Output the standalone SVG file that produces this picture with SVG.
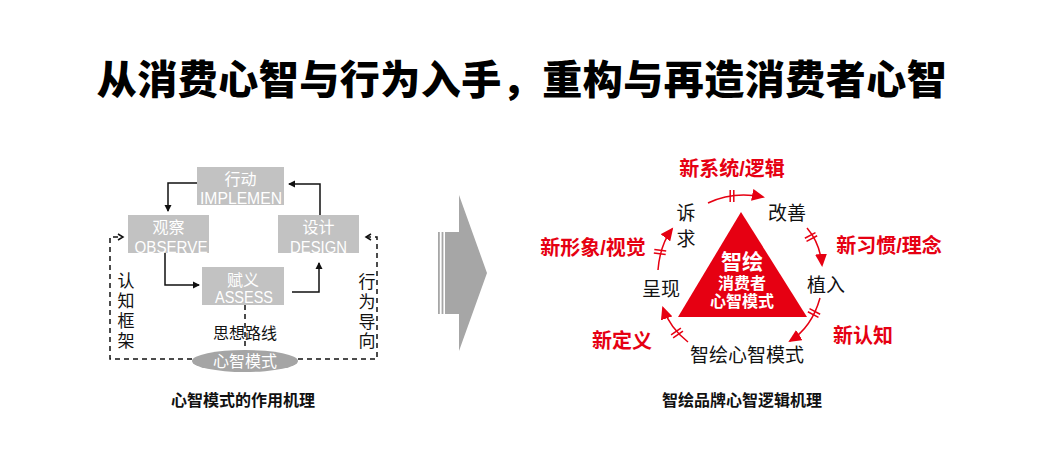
<svg xmlns="http://www.w3.org/2000/svg" width="1040" height="455" viewBox="0 0 1040 455">
<style>
.t{font-family:"Liberation Sans","Noto Sans CJK SC",sans-serif}
.cjk{font-family:"Noto Sans CJK SC",sans-serif}
.title{font-size:40px;font-weight:900;fill:#000}
.cap{font-size:16px;font-weight:700;fill:#111}
.box{fill:#c2c2c2}
.bt{fill:#fff;font-size:16px}
.bl{fill:#fff;font-size:17px}
.lbl{fill:#111;font-size:16px}
.vt{fill:#111;font-size:17px}
.solid{fill:none;stroke:#111;stroke-width:1.5}
.dash{fill:none;stroke:#111;stroke-width:1.5;stroke-dasharray:5 4}
.rarc{fill:none;stroke:#e60012;stroke-width:1.5}
.rl{fill:#e60012;font-size:20px;font-weight:700}
.bk{fill:#111;font-size:19px}
.tw{fill:#fff;font-weight:700}
</style>
<defs>
<marker id="ah" markerUnits="userSpaceOnUse" markerWidth="8" markerHeight="8" refX="6" refY="4" orient="auto">
<path d="M0,0.5 L7,4 L0,7.5 z" fill="#111"/>
</marker>
<marker id="ch" markerUnits="userSpaceOnUse" markerWidth="8" markerHeight="8" refX="6" refY="4" orient="auto">
<path d="M1,1 L6,4 L1,7" fill="none" stroke="#111" stroke-width="1.5"/>
</marker>
<marker id="ra" markerUnits="userSpaceOnUse" markerWidth="14" markerHeight="12" refX="11" refY="6" orient="auto">
<path d="M0,0 L13,6 L0,12 z" fill="#e60012"/>
</marker>
<g id="tick">
<line x1="-1.8" y1="-6" x2="-1.8" y2="6" stroke="#e60012" stroke-width="1.5"/>
<line x1="1.8" y1="-6" x2="1.8" y2="6" stroke="#e60012" stroke-width="1.5"/>
</g>
</defs>
<rect width="1040" height="455" fill="#fff"/>

<text class="cjk title" x="522" y="94" text-anchor="middle" letter-spacing="0.5">从消费心智与行为入手，重构与再造消费者心智</text>

<!-- Left diagram -->
<g id="connectors-left">
<path class="solid" d="M197,183 H168 V211" marker-end="url(#ah)"/>
<path class="solid" d="M320,215 V184 H289" marker-end="url(#ah)"/>
<path class="solid" d="M165,253 V285 H199" marker-end="url(#ah)"/>
<path class="solid" d="M292,292 H319 V263" marker-end="url(#ah)"/>
<path class="dash" d="M245,305 V350"/>
<path class="dash" d="M192,359 H110 V237 H123" marker-end="url(#ch)"/>
<path class="dash" d="M298,359 H377 V237 H366" marker-end="url(#ch)"/>
</g>
<g id="implement">
<rect class="box" x="197" y="167" width="87" height="38"/>
<text class="t bt" x="240.5" y="185" text-anchor="middle">行动</text>
<text class="t bl" x="241" y="204" text-anchor="middle" textLength="82" lengthAdjust="spacingAndGlyphs">IMPLEMEN</text>
</g>
<g id="observe">
<rect class="box" x="128" y="215" width="81" height="38"/>
<text class="t bt" x="168.5" y="233" text-anchor="middle">观察</text>
<text class="t bl" x="171" y="253" text-anchor="middle" textLength="73" lengthAdjust="spacingAndGlyphs">OBSERVE</text>
</g>
<g id="design">
<rect class="box" x="278" y="215" width="81" height="38"/>
<text class="t bt" x="318.5" y="233" text-anchor="middle">设计</text>
<text class="t bl" x="318.5" y="253" text-anchor="middle" textLength="57" lengthAdjust="spacingAndGlyphs">DESIGN</text>
</g>
<g id="assess">
<rect class="box" x="202" y="267" width="82" height="38"/>
<text class="t bt" x="243" y="286" text-anchor="middle">赋义</text>
<text class="t bl" x="244" y="303" text-anchor="middle" textLength="58" lengthAdjust="spacingAndGlyphs">ASSESS</text>
</g>
<g id="thought-route">
<text class="t lbl" x="245" y="339" text-anchor="middle">思想路线</text>
</g>
<g id="mind-mode">
<ellipse cx="245" cy="361" rx="53" ry="11" fill="#a5a5a5"/>
<text class="t bt" x="245" y="367" text-anchor="middle">心智模式</text>
</g>
<g id="cognitive-frame">
<text class="t vt" x="126" y="286.5" text-anchor="middle">认</text>
<text class="t vt" x="126" y="306.5" text-anchor="middle">知</text>
<text class="t vt" x="126" y="326.5" text-anchor="middle">框</text>
<text class="t vt" x="126" y="346.5" text-anchor="middle">架</text>
</g>
<g id="behavior-orient">
<text class="t vt" x="367" y="287.5" text-anchor="middle">行</text>
<text class="t vt" x="367" y="307.5" text-anchor="middle">为</text>
<text class="t vt" x="367" y="327.5" text-anchor="middle">导</text>
<text class="t vt" x="367" y="346.5" text-anchor="middle">向</text>
</g>
<text class="t cap" x="243" y="406" text-anchor="middle">心智模式的作用机理</text>

<!-- Big arrow -->
<g id="big-arrow" fill="#a6a6a6">
<rect x="438" y="232" width="1.8" height="82"/>
<rect x="441.6" y="232" width="1.8" height="82"/>
<polygon points="445,232 459,232 459,195 487,273 459,351 459,314 445,314"/>
</g>

<!-- Right diagram -->
<g id="core-triangle">
<polygon points="741,212 678,317 807,317" fill="#e60012"/>
<text class="t tw" x="742" y="269" text-anchor="middle" font-size="21">智绘</text>
<text class="t tw" x="742" y="289" text-anchor="middle" font-size="16">消费者</text>
<text class="t tw" x="742" y="307" text-anchor="middle" font-size="16">心智模式</text>
</g>
<g id="connectors-right">
<path class="rarc" d="M708,203 Q733,191 763,197" marker-end="url(#ra)"/>
<path class="rarc" d="M807,228 Q820,243 822,265" marker-end="url(#ra)"/>
<path class="rarc" d="M820,298 Q812,327 790,341" marker-end="url(#ra)"/>
<path class="rarc" d="M688,342 Q670,328 663,308" marker-end="url(#ra)"/>
<path class="rarc" d="M658,270 Q660,245 672,229" marker-end="url(#ra)"/>
<use href="#tick" transform="translate(732,196) rotate(0)"/>
<use href="#tick" transform="translate(811,237) rotate(62)"/>
<use href="#tick" transform="translate(814,313) rotate(118)"/>
<use href="#tick" transform="translate(677,333) rotate(55)"/>
<use href="#tick" transform="translate(660,252) rotate(-82)"/>
</g>
<g id="appeal">
<text class="t bk" x="686" y="220" text-anchor="middle">诉</text>
<text class="t bk" x="686" y="246" text-anchor="middle">求</text>
</g>
<g id="improve"><text class="t bk" x="787" y="220" text-anchor="middle">改善</text></g>
<g id="implant"><text class="t bk" x="826" y="292" text-anchor="middle">植入</text></g>
<g id="present"><text class="t bk" x="661" y="296" text-anchor="middle">呈现</text></g>
<g id="mind-model"><text class="t bk" x="747" y="362" text-anchor="middle">智绘心智模式</text></g>
<g id="labels-red">
<text class="t rl" x="732" y="176" text-anchor="middle">新系统/逻辑</text>
<text class="t rl" x="889" y="253" text-anchor="middle">新习惯/理念</text>
<text class="t rl" x="593" y="255" text-anchor="middle">新形象/视觉</text>
<text class="t rl" x="863" y="343" text-anchor="middle">新认知</text>
<text class="t rl" x="622" y="348" text-anchor="middle">新定义</text>
</g>
<text class="t cap" x="742" y="406" text-anchor="middle">智绘品牌心智逻辑机理</text>
</svg>
